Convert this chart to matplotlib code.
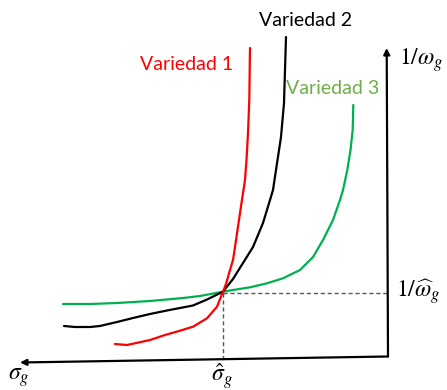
import numpy as np
import matplotlib
matplotlib.use('Agg')
import matplotlib.pyplot as plt

plt.rcParams['mathtext.fontset'] = 'stix'

# curves (pixel-like coordinates, y grows downwards)
red_x = [115, 127, 150, 165, 180, 193, 207, 217, 223, 226, 230, 233, 235, 240, 245, 246.5, 248, 249.3, 250]
red_y = [344, 345, 340, 335, 330.7, 326.7, 318.3, 306.7, 291.7, 284, 270, 260, 247, 213, 180, 160, 133, 100, 48]

black_x = [64, 75, 90, 100, 117, 133, 150, 167, 180, 193, 207, 223, 233, 243, 253, 263, 270, 273, 276, 281, 284, 285, 286]
black_y = [326, 327, 327, 326, 322, 318, 314, 310.5, 308, 305.5, 299.5, 291.7, 279, 263, 247, 223, 200, 190, 170, 137, 103, 70, 37]

green_x = [63, 90, 117, 150, 183, 200, 223, 233, 250, 267, 283, 300, 313, 323, 333, 340, 343, 347.3, 350.5, 352.7, 353.3]
green_y = [304, 304, 303, 301, 298, 296, 291.7, 290, 287.3, 283.3, 278.3, 270, 257, 240, 220, 200, 190, 170, 150, 130, 105]

# crossing point and axes
cross = (222.7, 293)
origin = (388, 356.5)
x_tip = (20, 362.5)
y_tip = (386.7, 48)

labels = ['Variedad 1', 'Variedad 2', 'Variedad 3']
label_pos = [(187, 65), (306, 21), (333, 88)]
label_colors = ['#FF0000', '#000000', '#70AD47']

fig = plt.figure(figsize=(4.47, 3.90), dpi=100)
ax = fig.add_axes([0, 0, 1, 1])
ax.set_xlim(0, 447)
ax.set_ylim(390, 0)
ax.axis('off')

# dashed guides
ax.plot([cross[0], origin[0]], [cross[1], cross[1]], ls=(0, (3, 2)), color='#595959', lw=1)
ax.plot([cross[0], cross[0]], [cross[1], 362], ls=(0, (3, 2)), color='#595959', lw=1)

style = dict(lw=1.6, solid_capstyle='round', solid_joinstyle='round')
ax.plot(green_x, green_y, color='#00B050', **style)
ax.plot(black_x, black_y, color='black', **style)
ax.plot(red_x, red_y, color='#FF0000', **style)

# axes with arrows
ax.annotate('', xy=x_tip, xytext=origin,
            arrowprops=dict(arrowstyle='-|>', lw=1.6, color='black', mutation_scale=9, shrinkA=0, shrinkB=0))
ax.annotate('', xy=y_tip, xytext=origin,
            arrowprops=dict(arrowstyle='-|>', lw=1.6, color='black', mutation_scale=9, shrinkA=0, shrinkB=0))

for t, p, c in zip(labels, label_pos, label_colors):
    ax.text(p[0], p[1], t, color=c, fontsize=14, family='Lato', ha='center', va='center')

ax.text(399, 60, r'$1/\omega_g$', fontsize=17, ha='left', va='center')
ax.text(396, 292, r'$1/\widehat{\omega}_g$', fontsize=17, ha='left', va='center')
ax.text(19, 377, r'$\sigma_g$', fontsize=17, ha='center', va='center')
ax.text(222, 376, r'$\hat{\sigma}_g$', fontsize=17, ha='center', va='center')

fig.savefig('out.png', dpi=100)
